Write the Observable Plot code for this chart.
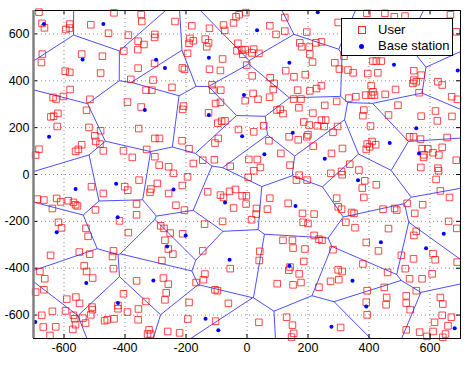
<!DOCTYPE html>
<html><head><meta charset="utf-8">
<script src="https://cdn.jsdelivr.net/npm/d3@7"></script>
<script src="https://cdn.jsdelivr.net/npm/@observablehq/plot@0.6"></script>
<style>
body{margin:0;background:#fff;font-family:"Liberation Sans",Arial,sans-serif;}
#wrap{position:relative;width:468px;height:368px;}
#legend{position:absolute;left:341px;top:18px;width:110px;height:36px;background:#fff;border:1px solid #000;font-size:13px;color:#000;}
.row{position:absolute;left:0;height:16px;line-height:16px;}
.row span.t{position:absolute;left:36px;white-space:nowrap;}
.sq{position:absolute;left:16px;top:4px;width:6px;height:6px;border:1px solid rgba(255,0,0,0.85);}
.dt{position:absolute;left:17px;top:6px;width:5px;height:5px;border-radius:50%;background:#0000ff;}
</style>
</head><body>
<div id="wrap"></div>
<script>
const xTicks = [-600,-400,-200,0,200,400,600];
const yTicks = [-600,-400,-200,0,200,400,600];
const legendLabels = ["User","Base station"];

const baseStations = [[-666,642],[-471,642],[-539,491],[-298,490],[-269,455],[-125,498],[232,692],[33,616],[139,477],[-10,339],[-335,275],[-125,254],[482,468],[691,444],[-649,161],[-16,163],[150,178],[57,86],[255,67],[555,197],[468,134],[564,90],[-562,-62],[-429,-40],[-241,-64],[-72,-119],[159,-134],[364,-25],[-424,-182],[-624,-246],[-201,-260],[-262,-307],[-57,-364],[-527,-463],[-307,-452],[-423,-548],[-136,-616],[-94,-665],[-694,-630],[139,-390],[346,-454],[277,-650],[645,-253],[439,-289],[587,-315],[391,-563],[681,-656],[625,556],[450,620]];

const users = [
[-682,693],[-672,645],[-664,626],[-581,642],[-582,625],[-594,619],[-512,639],[-436,690],[-454,603],[-389,595],[-347,683],[-345,653],[-671,514],[-674,478],[-542,514],[-474,505],[-404,527],[-358,533],[-357,569],[-357,454],[-596,441],[-581,436],[-480,433],[-381,406],[-580,363],[-636,329],[-626,322],[-602,333],[-515,321],[-392,309],[-526,274],[-643,246],[-634,249],[-620,261],[-347,288],
[-236,653],[-181,635],[-302,598],[-303,585],[-338,555],[-187,581],[-190,560],[-176,571],[-195,517],[-123,624],[-137,578],[-126,562],[-132,545],[-77,638],[-73,615],[-44,647],[-36,673],[-26,682],[-4,691],[-30,560],[-33,528],[-17,531],[-6,533],[-14,513],[-1,467],[-80,493],[-123,449],[-87,444],[-212,455],[-205,449],[-303,474],[-308,403],[-331,360],[-312,360],[-246,372],[-115,383],[-112,360],[-86,360],[-103,303],[-87,308],[-6,315],[-208,292],[-211,278],[-126,263],
[124,670],[75,635],[95,598],[124,612],[196,608],[299,649],[173,562],[179,545],[204,544],[226,562],[244,566],[206,514],[215,480],[288,477],[303,450],[331,446],[348,434],[318,505],[16,519],[39,517],[22,535],[127,443],[154,417],[191,426],[17,421],[76,413],[89,389],[86,363],[166,360],[206,357],[228,367],[244,379],[20,346],[36,321],[74,330],[153,322],[177,322],[170,285],[98,275],[109,278],[118,260],[216,262],[255,295],[294,312],[334,326],[357,332],
[393,688],[452,688],[483,673],[518,676],[667,682],[686,609],[413,484],[424,484],[440,484],[396,431],[429,434],[547,443],[571,424],[547,403],[555,396],[544,389],[626,396],[640,382],[407,379],[389,339],[413,353],[418,339],[407,339],[453,342],[487,363],[564,349],[671,332],[690,321],[495,296],[618,271],[383,275],[571,249],[672,248],[464,254],
[-622,205],[-693,83],[-682,108],[-518,201],[-480,187],[-499,165],[-496,141],[-482,130],[-471,101],[-542,127],[-553,107],[-562,99],[-405,101],[-376,73],[-355,196],[-687,-105],[-666,-109],[-624,-102],[-611,-117],[-586,-112],[-569,-119],[-562,-129],[-556,-134],[-638,-145],[-510,-52],[-471,-81],[-497,-151],[-401,-52],[-391,-67],[-354,-24],[-362,-126],[-362,-172],[-418,-198],[-618,-204],[-608,-228],[-528,-230],[-389,-248],
[-302,154],[-287,154],[-329,107],[-213,144],[-190,110],[-96,219],[-83,227],[-72,229],[-28,192],[-94,154],[-105,134],[-302,76],[-288,40],[-257,33],[-241,5],[-176,47],[-145,61],[-107,63],[-55,35],[-195,-10],[-294,-38],[-315,-62],[-318,-76],[-212,-47],[-257,-81],[-129,-74],[-87,-88],[-77,-98],[-57,-72],[-38,-64],[-16,-91],[-2,-91],[-44,-143],[-233,-131],[-205,-152],[-139,-212],[-80,-200],[-283,-219],[-272,-230],
[186,224],[204,211],[231,208],[244,232],[258,232],[253,205],[297,205],[282,180],[55,208],[22,182],[138,161],[168,148],[196,161],[200,169],[72,144],[217,121],[313,111],[111,90],[277,90],[6,64],[34,64],[141,40],[337,44],[44,30],[22,16],[4,-12],[171,-3],[162,-24],[197,-24],[275,5],[310,13],[312,-1],[-3,-126],[75,-101],[135,-123],[31,-145],[67,-148],[15,-193],[30,-169],[182,-166],[220,-169],[294,-101],[299,-138],[310,-148],[343,-162],[351,-166],[184,-204],[200,-209],[324,-204],[354,-227],
[380,251],[624,229],[405,207],[533,161],[546,161],[569,151],[656,158],[410,141],[394,130],[422,127],[402,118],[391,107],[574,110],[593,110],[640,116],[610,93],[629,83],[580,84],[579,73],[686,61],[367,19],[570,30],[626,27],[628,16],[620,-21],[386,-27],[424,-44],[378,-58],[383,-98],[634,-70],[664,-98],[525,-123],[576,-129],[446,-148],[484,-145],[491,-152],[550,-166],[661,-200],[688,-230],[464,-231],[555,-242],
[-521,-264],[-644,-345],[-550,-331],[-516,-340],[-441,-350],[-438,-326],[-534,-390],[-526,-414],[-506,-442],[-438,-402],[-679,-414],[-663,-445],[-666,-492],[-693,-502],[-591,-532],[-561,-523],[-549,-550],[-508,-566],[-507,-577],[-512,-599],[-405,-509],[-423,-559],[-423,-573],[-362,-454],[-356,-574],[-392,-587],[-357,-620],[-638,-584],[-673,-601],[-595,-582],[-569,-601],[-565,-616],[-538,-613],[-562,-641],[-529,-634],[-467,-624],[-458,-620],[-436,-616],[-668,-651],[-627,-650],[-571,-661],[-646,-687],
[-252,-250],[-211,-253],[-269,-281],[-258,-318],[-243,-340],[-279,-367],[-145,-326],[-55,-402],[-274,-442],[-258,-468],[-138,-425],[-143,-449],[-167,-461],[-105,-492],[-97,-496],[-265,-505],[-269,-535],[-332,-542],[-190,-546],[-61,-550],[-194,-617],[-103,-626],[-321,-663],[-326,-681],[-316,-681],[-260,-670],[-221,-676],
[220,-260],[236,-276],[246,-281],[118,-281],[149,-281],[151,-314],[190,-318],[282,-321],[42,-328],[40,-367],[186,-371],[141,-395],[137,-409],[171,-424],[299,-407],[312,-414],[301,-449],[274,-456],[177,-461],[151,-471],[99,-466],[236,-481],[39,-631],[130,-609],[149,-643],[153,-678],[146,-694],[307,-653],
[547,-260],[391,-290],[431,-326],[610,-338],[617,-364],[689,-374],[506,-345],[546,-360],[380,-382],[519,-402],[461,-418],[607,-424],[533,-445],[574,-445],[394,-496],[450,-482],[555,-496],[458,-525],[522,-518],[522,-549],[634,-525],[642,-553],[391,-545],[456,-556],[394,-599],[535,-577],[640,-601],[670,-609],[615,-631],[659,-646],[522,-663],[566,-673],[610,-670],[590,-691],[651,-681],[642,-695]
];

// Voronoi edges computed in data space (as MATLAB's voronoi does)
const B = 700;
const vor = d3.Delaunay.from(baseStations, d => d[0], d => d[1]).voronoi([-B, -B, B, B]);
const seen = new Set();
const edges = [];
const onB = (a, b) => (Math.abs(a[0]) >= B - 1e-6 && Math.abs(b[0]) >= B - 1e-6 && a[0] === b[0]) ||
                      (Math.abs(a[1]) >= B - 1e-6 && Math.abs(b[1]) >= B - 1e-6 && a[1] === b[1]);
for (let i = 0; i < baseStations.length; i++) {
  const poly = vor.cellPolygon(i);
  if (!poly) continue;
  for (let k = 0; k < poly.length - 1; k++) {
    const a = poly[k], b = poly[k + 1];
    if (onB(a, b)) continue;
    const ka = a.map(v => v.toFixed(3)).join(","), kb = b.map(v => v.toFixed(3)).join(",");
    const key = ka < kb ? ka + "|" + kb : kb + "|" + ka;
    if (seen.has(key)) continue;
    seen.add(key);
    edges.push({x1: a[0], y1: a[1], x2: b[0], y2: b[1]});
  }
}

const font = "'Liberation Sans', Arial, sans-serif";
const chart = Plot.plot({
  width: 468, height: 368,
  marginLeft: 33, marginRight: 8, marginTop: 10, marginBottom: 30,
  style: {fontFamily: font, fontSize: "12.5px", background: "#fff", color: "#000"},
  x: {domain: [-700, 700], ticks: xTicks, label: null},
  y: {domain: [-700, 700], ticks: yTicks, label: null},
  marks: [
    Plot.gridX(xTicks, {stroke: "#8c8c8c", strokeOpacity: 1, strokeDasharray: "1,3", strokeWidth: 1}),
    Plot.gridY(yTicks, {stroke: "#8c8c8c", strokeOpacity: 1, strokeDasharray: "1,3", strokeWidth: 1}),
    Plot.link(edges, {x1: "x1", y1: "y1", x2: "x2", y2: "y2", stroke: "#3a3aff", strokeWidth: 0.9}),
    Plot.dot(users, {x: d => d[0], y: d => d[1], symbol: "square", r: 3.7, stroke: "#ff0000", strokeOpacity: 0.85, fill: "none", strokeWidth: 0.85}),
    Plot.dot(baseStations, {x: d => d[0], y: d => d[1], r: 2, fill: "#0000ff", stroke: "none"}),
    Plot.ruleX(xTicks, {insetTop: 324, stroke: "#000"}),
    Plot.ruleX(xTicks, {insetBottom: 324, stroke: "#000"}),
    Plot.ruleY(yTicks, {insetRight: 423, stroke: "#000"}),
    Plot.ruleY(yTicks, {insetLeft: 423, stroke: "#000"}),
    Plot.frame({stroke: "#000", strokeWidth: 1}),
    Plot.ruleX([-700], {stroke: "#808080", strokeWidth: 2.5}),
    Plot.axisX(xTicks, {tickSize: 0, tickPadding: 5, fontSize: 12.5, tickFormat: d => String(d)}),
    Plot.axisY(yTicks, {tickSize: 0, tickPadding: 4, fontSize: 12.5, tickFormat: d => String(d)})
  ]
});
const wrap = document.getElementById("wrap");
wrap.appendChild(chart);
const lg = document.createElement("div");
lg.id = "legend";
lg.innerHTML = `<div class="row" style="top:3px"><div class="sq"></div><span class="t">${legendLabels[0]}</span></div>` +
               `<div class="row" style="top:19px"><div class="dt"></div><span class="t">${legendLabels[1]}</span></div>`;
wrap.appendChild(lg);
</script>
</body></html>
